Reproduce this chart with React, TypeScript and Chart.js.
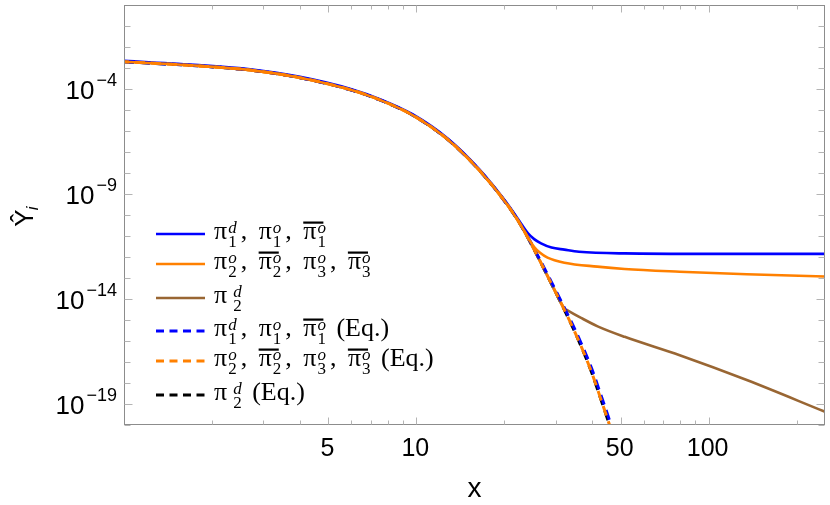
import { useEffect, useRef } from 'react';
import { Chart, registerables } from 'chart.js';

Chart.register(...registerables);

// ---- data ----
const blueX = [1, 1.8, 2.7, 4, 6, 7.5, 9.7, 12.8, 16.4, 20.3, 22.8, 24.1, 25.3, 26.7, 29, 32.1, 36, 51.6, 100, 250];
const blueY = [2.19e-3, 1.38e-3, 8.7e-4, 3.8e-4, 9.8e-5, 3.31e-5, 6.3e-6, 4.36e-7, 1.51e-8, 3.98e-10, 3.98e-11, 1.35e-11, 7.1e-12, 4.47e-12, 2.82e-12, 2.24e-12, 1.78e-12, 1.48e-12, 1.41e-12, 1.41e-12];

const orangeX = [1, 1.8, 2.7, 4, 6, 7.5, 9.7, 12.8, 16.4, 20.3, 22.8, 24.4, 25.3, 26.5, 28.1, 32.1, 41.6, 51.6, 79.6, 135, 250];
const orangeY = [2.0e-3, 1.26e-3, 7.94e-4, 3.47e-4, 8.9e-5, 3.02e-5, 5.75e-6, 3.98e-7, 1.38e-8, 3.63e-10, 3.16e-11, 6.3e-12, 3.0e-12, 1.58e-12, 9.3e-13, 5.37e-13, 3.47e-13, 2.69e-13, 2.0e-13, 1.51e-13, 1.17e-13];

const brownX = [1, 1.8, 2.7, 4, 6, 7.5, 9.7, 12.8, 16.4, 20.3, 22.8, 26.0, 28.9, 32.1, 33.0, 36.6, 41.7, 51.6, 79.6, 135, 250];
const brownY = [2.0e-3, 1.26e-3, 7.94e-4, 3.47e-4, 8.9e-5, 3.02e-5, 5.75e-6, 3.98e-7, 1.38e-8, 3.63e-10, 3.16e-11, 1.07e-12, 5.75e-14, 3.55e-15, 2.82e-15, 1.26e-15, 5.0e-16, 1.58e-16, 2.09e-17, 1.38e-18, 4.27e-20];

const eqX = [1, 1.8, 2.7, 4, 6, 7.5, 9.7, 12.8, 16.4, 20.3, 22.8, 26.0, 28.9, 32.1, 35.7, 39.7, 42.9, 45.8, 48];
const eqBlueY = [2.0e-3, 1.26e-3, 7.94e-4, 3.47e-4, 8.9e-5, 3.02e-5, 5.75e-6, 3.98e-7, 1.38e-8, 3.63e-10, 3.39e-11, 1.2e-12, 6.92e-14, 3.8e-15, 1.74e-16, 5.25e-18, 2.4e-19, 1.66e-20, 2.24e-21];
const eqOrangeY = [2.0e-3, 1.26e-3, 7.94e-4, 3.47e-4, 8.9e-5, 3.02e-5, 5.75e-6, 3.98e-7, 1.38e-8, 3.63e-10, 3.16e-11, 1.07e-12, 5.75e-14, 3.02e-15, 1.26e-16, 3.47e-18, 1.51e-19, 1.0e-20, 1.26e-21];
const eqBlackY = [2.0e-3, 1.26e-3, 7.94e-4, 3.47e-4, 8.9e-5, 3.02e-5, 5.75e-6, 3.98e-7, 1.38e-8, 3.63e-10, 3.16e-11, 1.07e-12, 5.75e-14, 3.02e-15, 1.26e-16, 3.47e-18, 1.51e-19, 1.0e-20, 1.26e-21];

const legendLabels = [
  'π_1^d, π_1^o, π\u0304_1^o',
  'π_2^o, π\u0304_2^o, π_3^o, π\u0304_3^o',
  'π _2^d',
  'π_1^d, π_1^o, π\u0304_1^o (Eq.)',
  'π_2^o, π\u0304_2^o, π_3^o, π\u0304_3^o (Eq.)',
  'π _2^d (Eq.)',
];

const xTickLabels = [5, 10, 50, 100];
const xMinorTicks = [2, 3, 4, 6, 7, 8, 9, 20, 30, 40, 60, 70, 80, 90, 200];
const yTickExponents = [-4, -9, -14, -19];
const yMinorExponents = [-20, -18, -17, -16, -15, -13, -12, -11, -10, -8, -7, -6, -5, -3, -2, -1];
const xTitle = 'x';
const yTitle = 'Ŷ';
const yTitleSub = 'i';

const BLUE = '#0000ff';
const ORANGE = '#ff8000';
const BROWN = '#996633';
const BLACK = '#000000';

const SANS = '"Liberation Sans", Arial, sans-serif';
const SERIF = '"Liberation Serif", "Times New Roman", serif';

const pts = (xs: number[], ys: number[]) => xs.map((x, i) => ({ x, y: ys[i] }));

function drawRich(ctx: CanvasRenderingContext2D, label: string, x0: number, yLine: number) {
  const re = /(π)(\u0304?)( ?)_(\w)\^(\w)/g;
  let x = x0;
  let last = 0;
  let m: RegExpExecArray | null;
  const base = `26px ${SERIF}`;
  const small = `17px ${SERIF}`;
  const smallIt = `italic 17px ${SERIF}`;
  const plain = (s: string) => {
    ctx.font = base;
    ctx.fillText(s, x, yLine + 5);
    x += ctx.measureText(s).width + (s.includes(',') ? 5 : 0);
  };
  while ((m = re.exec(label))) {
    if (m.index > last) plain(label.slice(last, m.index));
    ctx.font = base;
    ctx.fillText(m[1], x, yLine + 5);
    const w = ctx.measureText(m[1]).width;
    if (m[2]) ctx.fillRect(x, yLine - 12.5, w + 7, 2.2);
    x += w + 1 + (m[3] ? 5 : 0);
    ctx.font = smallIt;
    ctx.fillText(m[5], x, yLine - 1);
    const ws = ctx.measureText(m[5]).width;
    ctx.font = small;
    ctx.fillText(m[4], x, yLine + 12.5);
    const wb = ctx.measureText(m[4]).width;
    x += Math.max(ws, wb) + 4;
    last = re.lastIndex;
  }
  if (last < label.length) plain(label.slice(last));
}

const decorPlugin = {
  id: 'decor',
  afterDatasetsDraw(chart: any) {
    const { ctx, chartArea: a, scales } = chart;
    const xs = scales.x;
    const ys = scales.y;
    ctx.save();
    // frame
    ctx.strokeStyle = '#8c8c8c';
    ctx.lineWidth = 1;
    ctx.setLineDash([]);
    const L = Math.round(a.left) + 0.5;
    const R = Math.round(a.right) - 0.5;
    const T = Math.round(a.top) + 0.5;
    const B = Math.round(a.bottom) - 0.5;
    ctx.strokeRect(L, T, R - L, B - T);

    // ticks
    ctx.strokeStyle = '#b4b4b4';
    const tick = (x1: number, y1: number, x2: number, y2: number) => {
      ctx.beginPath();
      ctx.moveTo(x1, y1);
      ctx.lineTo(x2, y2);
      ctx.stroke();
    };
    yMinorExponents.forEach((e) => {
      const p = Math.round(ys.getPixelForValue(Math.pow(10, e))) + 0.5;
      tick(L, p, L + 6, p);
      tick(R, p, R - 6, p);
    });
    yTickExponents.forEach((e) => {
      const p = Math.round(ys.getPixelForValue(Math.pow(10, e))) + 0.5;
      tick(L, p, L + 8, p);
      tick(R, p, R - 8, p);
    });
    xMinorTicks.forEach((v) => {
      const p = Math.round(xs.getPixelForValue(v)) + 0.5;
      tick(p, B, p, B - 4);
      tick(p, T, p, T + 4);
    });
    xTickLabels.forEach((v) => {
      const p = Math.round(xs.getPixelForValue(v)) + 0.5;
      tick(p, B, p, B - 7);
      tick(p, T, p, T + 7);
    });

    // tick labels
    ctx.fillStyle = '#000';
    ctx.textBaseline = 'alphabetic';
    ctx.font = `25px ${SANS}`;
    ctx.textAlign = 'center';
    xTickLabels.forEach((v) => {
      const p = xs.getPixelForValue(v);
      ctx.fillText(String(v), p - 1, a.bottom + 31);
    });
    yTickExponents.forEach((e) => {
      const p = ys.getPixelForValue(Math.pow(10, e));
      const sup = '\u2212' + String(Math.abs(e));
      ctx.textAlign = 'right';
      ctx.font = `18px ${SANS}`;
      const supRight = a.left - 7;
      ctx.fillText(sup, supRight, p - 3);
      const sw = ctx.measureText(sup).width;
      ctx.font = `26px ${SANS}`;
      ctx.fillText('10', supRight - sw - 2, p + 10);
    });

    // axis titles
    ctx.textAlign = 'center';
    ctx.font = `28px ${SANS}`;
    ctx.fillText(xTitle, (a.left + a.right) / 2, a.bottom + 72);
    ctx.save();
    ctx.translate(33, 218);
    ctx.rotate(-Math.PI / 2);
    ctx.font = `26px ${SANS}`;
    ctx.textAlign = 'center';
    ctx.fillText(yTitle, 0, 0);
    const yw = ctx.measureText(yTitle).width;
    ctx.textAlign = 'left';
    ctx.font = `italic 17px ${SANS}`;
    ctx.fillText(yTitleSub, yw / 2 - 1, 5);
    ctx.restore();

    // legend
    const rows = [234, 264, 298, 331, 361, 395];
    chart.data.datasets.forEach((ds: any, i: number) => {
      const y = rows[i];
      ctx.strokeStyle = ds.borderColor;
      ctx.lineWidth = ds.borderWidth;
      ctx.setLineDash(ds.borderDash && ds.borderDash.length ? [8, 5.5] : []);
      ctx.beginPath();
      ctx.moveTo(156, y);
      ctx.lineTo(205, y);
      ctx.stroke();
      ctx.setLineDash([]);
      ctx.fillStyle = '#000';
      ctx.textAlign = 'left';
      drawRich(ctx, legendLabels[i], 214, y);
    });
    ctx.restore();
  },
};

export default function App() {
  const ref = useRef<HTMLCanvasElement>(null);
  useEffect(() => {
    const common = { pointRadius: 0, fill: false, cubicInterpolationMode: 'monotone' as const, clip: 0 };
    const chart = new Chart(ref.current as HTMLCanvasElement, {
      type: 'line',
      data: {
        datasets: [
          { ...common, label: legendLabels[0], data: pts(blueX, blueY), borderColor: BLUE, borderWidth: 2.6, order: 4 },
          { ...common, label: legendLabels[1], data: pts(orangeX, orangeY), borderColor: ORANGE, borderWidth: 2.6, order: 1 },
          { ...common, label: legendLabels[2], data: pts(brownX, brownY), borderColor: BROWN, borderWidth: 2.6, order: 3 },
          { ...common, label: legendLabels[3], data: pts(eqX, eqBlueY), borderColor: BLUE, borderWidth: 3, borderDash: [10, 6], order: 2 },
          { ...common, label: legendLabels[4], data: pts(eqX, eqOrangeY), borderColor: ORANGE, borderWidth: 3, borderDash: [10, 6], borderDashOffset: 5, order: 0 },
          { ...common, label: legendLabels[5], data: pts(eqX, eqBlackY), borderColor: BLACK, borderWidth: 3, borderDash: [10, 6], order: 5 },
        ],
      } as any,
      options: {
        animation: false,
        responsive: false,
        maintainAspectRatio: false,
        layout: { padding: { left: 124, top: 5, right: 5, bottom: 80 } },
        scales: {
          x: { type: 'logarithmic', min: 1, max: 250, display: false },
          y: { type: 'logarithmic', min: 1e-20, max: 1, display: false },
        },
        plugins: { legend: { display: false }, tooltip: { enabled: false } },
        events: [],
      } as any,
      plugins: [decorPlugin],
    });
    return () => chart.destroy();
  }, []);
  return (
    <div style={{ position: 'absolute', left: 0, top: 0, width: 830, height: 505, background: '#fff' }}>
      <canvas ref={ref} width={830} height={505} style={{ display: 'block', width: 830, height: 505 }} />
    </div>
  );
}
